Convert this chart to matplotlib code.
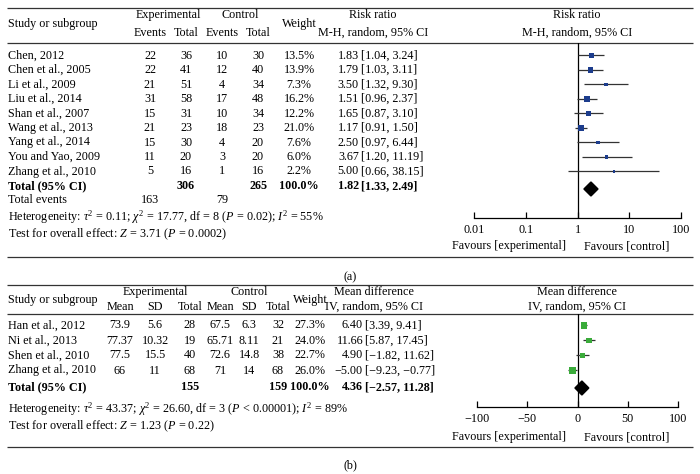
import matplotlib
matplotlib.use("Agg")
import matplotlib.pyplot as plt
import numpy as np

plt.rcParams['font.family'] = ['Liberation Serif', 'DejaVu Serif']
plt.rcParams['mathtext.fontset'] = 'custom'
plt.rcParams['mathtext.rm'] = 'Liberation Serif'
plt.rcParams['mathtext.it'] = 'Liberation Serif:italic'
plt.rcParams['mathtext.bf'] = 'Liberation Serif:bold'

FS = 8.7

# ---------------- Data: panel (a) ----------------
a_studies = ["Chen, 2012", "Chen et al., 2005", "Li et al., 2009", "Liu et al., 2014",
             "Shan et al., 2007", "Wang et al., 2013", "Yang et al., 2014",
             "You and Yao, 2009", "Zhang et al., 2010"]
a_exp_events = [22, 22, 21, 31, 15, 21, 15, 11, 5]
a_exp_total = [36, 41, 51, 58, 31, 23, 30, 20, 16]
a_ctl_events = [10, 12, 4, 17, 10, 18, 4, 3, 1]
a_ctl_total = [30, 40, 34, 48, 34, 23, 20, 20, 16]
a_weight = [13.5, 13.9, 7.3, 16.2, 12.2, 21.0, 7.6, 6.0, 2.2]
a_rr = [1.83, 1.79, 3.50, 1.51, 1.65, 1.17, 2.50, 3.67, 5.00]
a_lo = [1.04, 1.03, 1.32, 0.96, 0.87, 0.91, 0.97, 1.20, 0.66]
a_hi = [3.24, 3.11, 9.30, 2.37, 3.10, 1.50, 6.44, 11.19, 38.15]
a_tot_exp, a_tot_ctl = 306, 265
a_events_exp, a_events_ctl = 163, 79
a_pooled = [1.82, 1.33, 2.49]
a_ticks = [0.01, 0.1, 1, 10, 100]
a_ticklabels = ["0.01", "0.1", "1", "10", "100"]
a_het = r"Heterogeneity: $\tau^2$ = 0.11; $\chi^2$ = 17.77, df = 8 ($P$ = 0.02); $I^2$ = 55%"
a_test = r"Test for overall effect: $Z$ = 3.71 ($P$ = 0.0002)"

# ---------------- Data: panel (b) ----------------
b_studies = ["Han et al., 2012", "Ni et al., 2013", "Shen et al., 2010", "Zhang et al., 2010"]
b_exp_mean = [73.9, 77.37, 77.5, 66]
b_exp_sd = [5.6, 10.32, 15.5, 11]
b_exp_n = [28, 19, 40, 68]
b_ctl_mean = [67.5, 65.71, 72.6, 71]
b_ctl_sd = [6.3, 8.11, 14.8, 14]
b_ctl_n = [32, 21, 38, 68]
b_weight = [27.3, 24.0, 22.7, 26.0]
b_md = [6.40, 11.66, 4.90, -5.00]
b_lo = [3.39, 5.87, -1.82, -9.23]
b_hi = [9.41, 17.45, 11.62, -0.77]
b_tot_exp, b_tot_ctl = 155, 159
b_pooled = [4.36, -2.57, 11.28]
b_ticks = [-100, -50, 0, 50, 100]
b_ticklabels = ["\u2212100", "\u221250", "0", "50", "100"]
b_het = r"Heterogeneity: $\tau^2$ = 43.37; $\chi^2$ = 26.60, df = 3 ($P$ < 0.00001); $I^2$ = 89%"
b_test = r"Test for overall effect: $Z$ = 1.23 ($P$ = 0.22)"

BLUE = "#1c3c8c"
GREEN = "#3aab3a"
LINE = "#333333"

W, H = 700, 474
fig = plt.figure(figsize=(W / 100, H / 100), dpi=100)
bg = fig.add_axes([0, 0, 1, 1])
bg.set_xlim(0, W)
bg.set_ylim(H, 0)
bg.axis("off")


def T(x, y, s, ha="center", bold=False, **kw):
    bg.text(x, y, s, ha=ha, va="center", fontsize=FS,
            fontweight="bold" if bold else "normal", **kw)


def rule(y):
    bg.plot([7, 693], [y, y], color=LINE, lw=0.9, solid_capstyle="butt")


def m(s):
    return str(s).replace("-", "\u2212")


def fmt2(v):
    return m(f"{v:.2f}")


def forest_axes(x0, x1, ytop, ybot):
    ax = fig.add_axes([x0 / W, 1 - ybot / H, (x1 - x0) / W, (ybot - ytop) / H])
    ax.set_ylim(ybot, ytop)
    ax.patch.set_alpha(0)
    for sp in ("top", "left", "right"):
        ax.spines[sp].set_visible(False)
    ax.spines["bottom"].set_linewidth(0.9)
    ax.spines["bottom"].set_color("black")
    ax.tick_params(axis="x", direction="in", length=4, width=0.9, pad=4, labelsize=FS)
    ax.set_yticks([])
    return ax


# ======================= Panel (a) =======================
ya_top, ya_hdr, ya_bot = 8, 43, 257
rule(ya_top); rule(ya_hdr); rule(ya_bot)
h1, h2 = 15, 33
hm = (h1 + h2) / 2
cx_ev, cx_tot, cc_ev, cc_tot, c_w = 150, 186, 222, 258, 299
c_rr = 361
T(8, hm, "Study or subgroup", ha="left")
T((cx_ev + cx_tot) / 2, h1, "Experimental")
T(cx_ev, h2, "Events"); T(cx_tot, h2, "Total")
T((cc_ev + cc_tot) / 2, h1, "Control")
T(cc_ev, h2, "Events"); T(cc_tot, h2, "Total")
T(c_w, hm, "Weight")
T(373, h1, "Risk ratio"); T(373, h2, "M-H, random, 95% CI")
T(577, h1, "Risk ratio"); T(577, h2, "M-H, random, 95% CI")

y0, dy = 55.5, 14.5
a_rows = [y0 + i * dy for i in range(len(a_studies))]
for i, yy in enumerate(a_rows):
    T(8, yy, a_studies[i], ha="left")
    T(cx_ev, yy, str(a_exp_events[i])); T(cx_tot, yy, str(a_exp_total[i]))
    T(cc_ev, yy, str(a_ctl_events[i])); T(cc_tot, yy, str(a_ctl_total[i]))
    T(c_w, yy, f"{a_weight[i]:.1f}%")
    T(c_rr - 2, yy, fmt2(a_rr[i]), ha="right")
    T(c_rr, yy, f"[{fmt2(a_lo[i])}, {fmt2(a_hi[i])}]", ha="left")
y_tot = a_rows[-1] + dy
T(8, y_tot, "Total (95% CI)", ha="left", bold=True)
T(cx_tot, y_tot, str(a_tot_exp), bold=True)
T(cc_tot, y_tot, str(a_tot_ctl), bold=True)
T(c_w, y_tot, "100.0%", bold=True)
T(c_rr - 2, y_tot, fmt2(a_pooled[0]), ha="right", bold=True)
T(c_rr, y_tot, f"[{fmt2(a_pooled[1])}, {fmt2(a_pooled[2])}]", ha="left", bold=True)
y_ev = 200
T(8, y_ev, "Total events", ha="left")
T(cx_ev, y_ev, str(a_events_exp)); T(cc_ev, y_ev, str(a_events_ctl))
T(8, 217, a_het, ha="left")
T(8, 234, a_test, ha="left")
T(350, 277, "(a)")

axa = forest_axes(474, 681, ya_hdr, 218)
axa.set_xscale("log")
axa.set_xlim(0.01, 100)
axa.set_xticks(a_ticks)
axa.set_xticklabels(a_ticklabels)
axa.minorticks_off()
axa.axvline(1, color="black", lw=0.9)
axa.hlines(a_rows, a_lo, a_hi, color=LINE, lw=0.9)
side_pt = 1.4 * np.sqrt(a_weight) * 0.72
axa.scatter(a_rr, a_rows, s=side_pt ** 2, marker="s", color=BLUE, zorder=3, linewidths=0)
dh = 7
axa.fill([a_pooled[1], a_pooled[0], a_pooled[2], a_pooled[0]],
         [y_tot + 3, y_tot + 3 - dh, y_tot + 3, y_tot + 3 + dh], color="black", zorder=3)
T(566, 246, "Favours [experimental]", ha="right")
T(584, 246, "Favours [control]", ha="left")

# ======================= Panel (b) =======================
yb_top, yb_hdr, yb_bot = 285, 314, 447
rule(yb_top); rule(yb_hdr); rule(yb_bot)
g1, g2 = 292, 307
gm = (g1 + g2) / 2
bx_m, bx_sd, bx_n, bc_m, bc_sd, bc_n, b_w = 120, 155, 190, 220, 249, 278, 310
b_md_x = 365
T(8, gm, "Study or subgroup", ha="left")
T((bx_m + bx_n) / 2, g1, "Experimental")
T(bx_m, g2, "Mean"); T(bx_sd, g2, "SD"); T(bx_n, g2, "Total")
T((bc_m + bc_n) / 2, g1, "Control")
T(bc_m, g2, "Mean"); T(bc_sd, g2, "SD"); T(bc_n, g2, "Total")
T(b_w, gm, "Weight")
T(374, g1, "Mean difference"); T(374, g2, "IV, random, 95% CI")
T(577, g1, "Mean difference"); T(577, g2, "IV, random, 95% CI")

b_rows = [325.5 + i * 15 for i in range(len(b_studies))]
for i, yy in enumerate(b_rows):
    T(8, yy, b_studies[i], ha="left")
    T(bx_m, yy, str(b_exp_mean[i])); T(bx_sd, yy, str(b_exp_sd[i])); T(bx_n, yy, str(b_exp_n[i]))
    T(bc_m, yy, str(b_ctl_mean[i])); T(bc_sd, yy, str(b_ctl_sd[i])); T(bc_n, yy, str(b_ctl_n[i]))
    T(b_w, yy, f"{b_weight[i]:.1f}%")
    T(b_md_x - 2, yy, fmt2(b_md[i]), ha="right")
    T(b_md_x, yy, f"[{fmt2(b_lo[i])}, {fmt2(b_hi[i])}]", ha="left")
yb_tot = 387
T(8, yb_tot, "Total (95% CI)", ha="left", bold=True)
T(bx_n, yb_tot, str(b_tot_exp), bold=True)
T(bc_n, yb_tot, str(b_tot_ctl), bold=True)
T(b_w, yb_tot, "100.0%", bold=True)
T(b_md_x - 2, yb_tot, fmt2(b_pooled[0]), ha="right", bold=True)
T(b_md_x, yb_tot, f"[{fmt2(b_pooled[1])}, {fmt2(b_pooled[2])}]", ha="left", bold=True)
T(8, 409, b_het, ha="left")
T(8, 426, b_test, ha="left")
T(350, 465, "(b)")

axb = forest_axes(477, 678, yb_hdr, 407)
axb.set_xlim(-100, 100)
axb.set_xticks(b_ticks)
axb.set_xticklabels(b_ticklabels)
axb.axvline(0, color="black", lw=0.9)
axb.hlines(b_rows, b_lo, b_hi, color=LINE, lw=0.9)
side_b = 1.2 * np.sqrt(b_weight) * 0.72
axb.scatter(b_md, b_rows, s=side_b ** 2, marker="s", color=GREEN, zorder=3, linewidths=0)
axb.fill([b_pooled[1], b_pooled[0], b_pooled[2], b_pooled[0]],
         [yb_tot + 1, yb_tot + 1 - dh, yb_tot + 1, yb_tot + 1 + dh], color="black", zorder=3)
T(566, 437, "Favours [experimental]", ha="right")
T(584, 437, "Favours [control]", ha="left")

fig.savefig("out.png", dpi=100)
